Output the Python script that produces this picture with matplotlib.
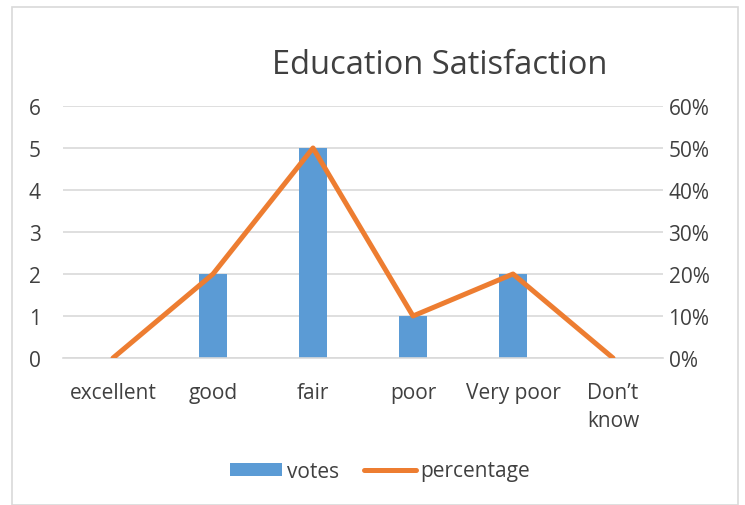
import numpy as np
import matplotlib.pyplot as plt
from matplotlib.patches import Rectangle
from matplotlib.ticker import PercentFormatter

categories = ["excellent", "good", "fair", "poor", "Very poor", "Don\u2019t\nknow"]
votes = [0, 2, 5, 1, 2, 0]
percentage = [0.0, 0.2, 0.5, 0.1, 0.2, 0.0]

plt.rcParams['font.family'] = ['Open Sans', 'DejaVu Sans']
text_c = '#404040'
grid_c = '#d9d9d9'

fig = plt.figure(figsize=(7.45, 5.06), dpi=100)
fig.patches.append(Rectangle((12/745, 0), 726/745, 1 - 8/506, transform=fig.transFigure,
                             fill=False, ec='#d9d9d9', lw=1.2))

ax = fig.add_axes([63/745, 1 - 359/506, 600/745, 252/506])
x = np.arange(len(categories))
ax.bar(x, votes, width=0.28, color='#5b9bd5', label='votes', zorder=2)
ax.set_ylim(0, 6)
ax.set_xlim(-0.5, len(categories) - 0.5)
ax.set_yticks(range(0, 7))
ax.yaxis.grid(True, color=grid_c, lw=1.2, zorder=0)
ax.set_axisbelow(True)
for s in ['top', 'right', 'left']:
    ax.spines[s].set_visible(False)
ax.spines['bottom'].set_color(grid_c)
ax.spines['bottom'].set_linewidth(1.2)
ax.set_xticks(x)
ax.set_xticklabels(categories, linespacing=1.45)
ax.tick_params(axis='x', length=0, pad=17, labelsize=15, labelcolor=text_c)
ax.tick_params(axis='y', length=0, pad=16, labelsize=15, labelcolor=text_c)
for lab in ax.get_xticklabels():
    lab.set_verticalalignment('top')

ax2 = ax.twinx()
ax2.plot(x, percentage, color='#ed7d31', lw=3.6, label='percentage', zorder=3,
         solid_capstyle='round')
ax2.set_ylim(0, 0.6)
ax2.set_yticks(np.arange(0, 0.61, 0.1))
ax2.yaxis.set_major_formatter(PercentFormatter(1.0, decimals=0))
ax2.tick_params(axis='y', length=0, pad=4, labelsize=15, labelcolor=text_c)
for s in ax2.spines.values():
    s.set_visible(False)

fig.text(440/745, 1 - 65/506, "Education Satisfaction", ha='center', va='center',
         fontsize=23.5, color=text_c)

h1, l1 = ax.get_legend_handles_labels()
h2, l2 = ax2.get_legend_handles_labels()
fig.legend(h1 + h2, l1 + l2, loc='center', bbox_to_anchor=(380/745, 1 - 472/506),
           ncol=2, frameon=False, fontsize=15, labelcolor=text_c,
           handlelength=2.5, handleheight=0.6, handletextpad=0.2, columnspacing=1.2)

fig.savefig('out.png', dpi=100)
